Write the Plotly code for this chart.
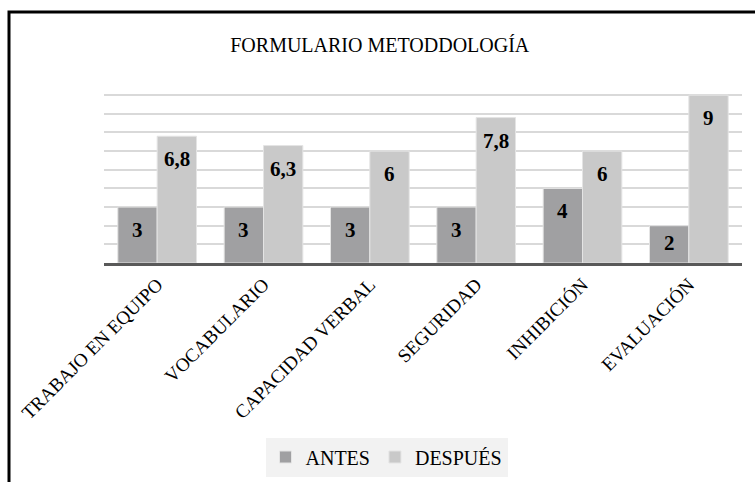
import plotly.graph_objects as go

categories = ["TRABAJO EN EQUIPO", "VOCABULARIO", "CAPACIDAD VERBAL", "SEGURIDAD", "INHIBICIÓN", "EVALUACIÓN"]
antes = [3, 3, 3, 3, 4, 2]
despues = [6.8, 6.3, 6, 7.8, 6, 9]
series_names = ["ANTES", "DESPUÉS"]
colors = ["#a0a0a2", "#c9c9c9"]

W, H = 755, 482
ML, MR, MT, MB = 104, 13, 76, 219
PW, PH = W - ML - MR, H - MT - MB

def fmt(v):
    return f"{v:g}".replace(".", ",")

SERIF = "Liberation Serif"

fig = go.Figure()
for name, vals, col in zip(series_names, [antes, despues], colors):
    fig.add_trace(go.Bar(
        x=categories, y=vals, name=name,
        marker=dict(color=col, line=dict(color="#e4e4e4", width=1)),
        hoverinfo="x+y",
    ))

bargap = 0.26
bw = (1 - bargap) / 2
annotations = []
for si, vals in enumerate([antes, despues]):
    off = -bw / 2 if si == 0 else bw / 2
    for i, v in enumerate(vals):
        annotations.append(dict(
            x=i + off, y=v, xref="x", yref="y", text="<b>" + fmt(v) + "</b>",
            showarrow=False, yanchor="middle", yshift=-23 if v > 2.5 else -17,
            font=dict(family=SERIF, size=21, color="#000000"),
        ))

fig.update_layout(
    width=W, height=H,
    margin=dict(l=ML, r=MR, t=MT, b=MB, autoexpand=False),
    paper_bgcolor="white", plot_bgcolor="white",
    barmode="group", bargap=bargap, bargroupgap=0,
    title=dict(text="FORMULARIO METODDOLOGÍA", xref="container", x=0.503,
               yref="container", y=1 - 45 / H, yanchor="middle", xanchor="center",
               font=dict(family=SERIF, size=20, color="#000000")),
    font=dict(family=SERIF, color="#000000"),
    xaxis=dict(tickangle=-45, tickfont=dict(family=SERIF, size=19, color="#000000"),
               showline=True, linecolor="#595959", linewidth=3, ticks="",
               showgrid=False, automargin=False),
    yaxis=dict(range=[0, 10.03], dtick=1, showticklabels=False, showgrid=True,
               gridcolor="#d9d9d9", gridwidth=1.5, zeroline=False, showline=False,
               automargin=False),
    legend=dict(orientation="h", x=(386.5 - ML) / PW, xanchor="center",
                y=-(457 - (H - MB)) / PH, yanchor="middle",
                bgcolor="#f2f2f2", font=dict(family=SERIF, size=20, color="#000000"),
                itemwidth=30),
    annotations=annotations,
    shapes=[dict(type="rect", xref="paper", yref="paper",
                 x0=(9 - ML) / PW, x1=(W + 10 - ML) / PW,
                 y0=-((H + 10) - (H - MB)) / PH, y1=1 + (MT - 12) / PH,
                 line=dict(color="#000000", width=3), fillcolor="rgba(0,0,0,0)")],
    showlegend=True,
)

fig.write_html("out.html", config={"displayModeBar": False},
               post_script="document.body.style.margin='0';document.body.style.overflow='hidden';")
